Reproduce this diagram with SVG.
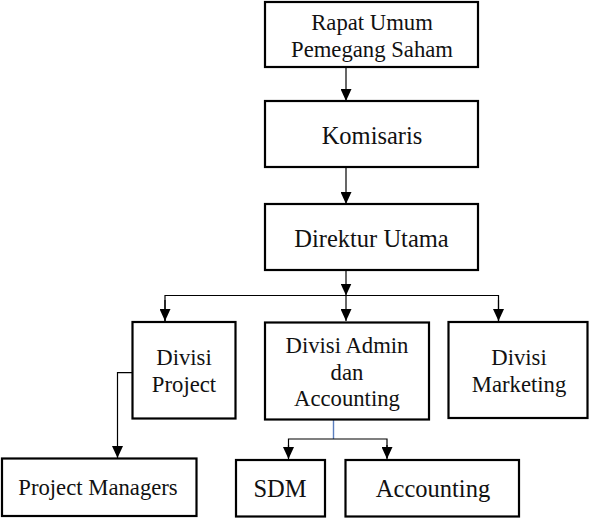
<svg xmlns="http://www.w3.org/2000/svg" width="589" height="518" viewBox="0 0 589 518">
<style>
.box{fill:#fff;stroke:#000;stroke-width:2.2}
text{font-family:'Liberation Serif','Times New Roman',Times,'DejaVu Serif',serif;font-size:22.7px;fill:#111;text-anchor:middle}
.tb{font-size:24.5px}
.c{fill:none;stroke:#000;stroke-width:1.2}
.a{marker-end:url(#ah)}
</style>
<defs>
<marker id="ah" markerUnits="userSpaceOnUse" markerWidth="12" markerHeight="11" refX="12" refY="5.5" orient="auto">
<path d="M0,0 L12,5.5 L0,11 z" fill="#000"/>
</marker>
</defs>
<rect width="589" height="518" fill="#fff"/>
<g id="connectors">
<line class="c a" x1="346" y1="67" x2="346" y2="101"/>
<line class="c a" x1="346" y1="167" x2="346" y2="204"/>
<line class="c a" x1="346" y1="270" x2="346" y2="295.5"/>
<polyline class="c" points="165,321 165,295.5 498.5,295.5 498.5,321"/>
<line class="c a" x1="165" y1="300" x2="165" y2="321"/>
<line class="c a" x1="346" y1="295.5" x2="346" y2="321"/>
<line class="c a" x1="498.5" y1="300" x2="498.5" y2="321"/>
<polyline class="c a" points="132,372.7 117.5,372.7 117.5,458"/>
<line x1="333.5" y1="420" x2="333.5" y2="439" stroke="#5b7fbf" stroke-width="1.4"/>
<polyline class="c" points="288.5,458 288.5,439 387,439 387,458"/>
<line class="c a" x1="288.5" y1="445" x2="288.5" y2="459"/>
<line class="c a" x1="387" y1="445" x2="387" y2="459"/>
</g>
<g id="rups">
<rect class="box" x="265" y="2" width="213" height="65"/>
<text x="372" y="30">Rapat Umum</text>
<text x="372" y="56.5">Pemegang Saham</text>
</g>
<g id="komisaris">
<rect class="box" x="265" y="101" width="213" height="66"/>
<text class="tb" x="372" y="144">Komisaris</text>
</g>
<g id="direktur">
<rect class="box" x="265" y="204" width="213" height="66"/>
<text class="tb" x="371.5" y="247.3">Direktur Utama</text>
</g>
<g id="divisi-project">
<rect class="box" x="132.5" y="322" width="103" height="96.5"/>
<text x="184" y="365">Divisi</text>
<text x="184" y="391.7">Project</text>
</g>
<g id="divisi-admin">
<rect class="box" x="265" y="322.5" width="164" height="97"/>
<text x="347" y="352.7">Divisi Admin</text>
<text x="347" y="379.5">dan</text>
<text x="347" y="406">Accounting</text>
</g>
<g id="divisi-marketing">
<rect class="box" x="448.5" y="322" width="139" height="96"/>
<text x="519" y="365">Divisi</text>
<text x="519" y="391.7">Marketing</text>
</g>
<g id="project-managers">
<rect class="box" x="2" y="458.5" width="194.5" height="57.5"/>
<text x="98" y="495">Project Managers</text>
</g>
<g id="sdm">
<rect class="box" x="236" y="460" width="89" height="56.5"/>
<text class="tb" x="280" y="497.3">SDM</text>
</g>
<g id="accounting">
<rect class="box" x="345.5" y="460" width="173.5" height="56.5"/>
<text class="tb" x="433" y="497.3">Accounting</text>
</g>
</svg>
